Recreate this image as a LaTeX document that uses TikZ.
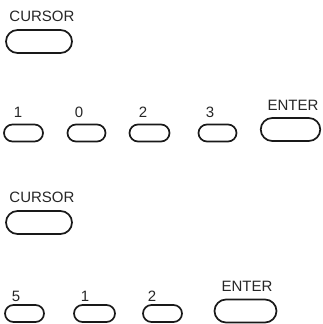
\documentclass[tikz,border=0pt]{standalone}
\usepackage{fontspec}
\setmainfont{Liberation Sans}
\begin{document}
\begin{tikzpicture}[x=1pt,y=-1pt,
  keybox/.style={draw=black!90, line width=1.7pt, rectangle, rounded corners=8.5pt, minimum height=17pt, inner sep=0pt},
  bigkey/.style={keybox, rounded corners=11.5pt, minimum height=23pt},
  lab/.style={font=\fontsize{15}{15}\selectfont, inner sep=0pt, text=black!85}]
\useasboundingbox (0,0) rectangle (322,324);
% first block
\node[lab] (tc1) at (42,16) {CURSOR};
\node[bigkey, minimum width=66pt] (c1) at (39,41.5) {};
\node[lab] (t11) at (18,112.5) {1};
\node[lab] (t12) at (79,112.5) {0};
\node[lab] (t13) at (143,112.5) {2};
\node[lab] (t14) at (210,112.5) {3};
\node[lab] (te1) at (293,105) {ENTER};
\node[keybox, minimum width=39pt] (k11) at (23.5,133) {};
\node[keybox, minimum width=38pt] (k12) at (86.5,133) {};
\node[keybox, minimum width=40pt] (k13) at (149.5,133) {};
\node[keybox, minimum width=38pt] (k14) at (217.5,133) {};
\node[bigkey, minimum width=59.5pt] (e1) at (290.5,129.5) {};
% second block
\node[lab] (tc2) at (42,197) {CURSOR};
\node[bigkey, minimum width=66pt] (c2) at (39,222.5) {};
\node[lab] (t21) at (16,296) {5};
\node[lab] (t22) at (85,296) {1};
\node[lab] (t23) at (152,296) {2};
\node[lab] (te2) at (247,286) {ENTER};
\node[keybox, minimum width=39pt] (k21) at (24.5,313.5) {};
\node[keybox, minimum width=41pt] (k22) at (94.5,313.5) {};
\node[keybox, minimum width=39pt] (k23) at (162.5,313.5) {};
\node[bigkey, minimum width=62pt] (e2) at (245.5,311) {};
\end{tikzpicture}
\end{document}
